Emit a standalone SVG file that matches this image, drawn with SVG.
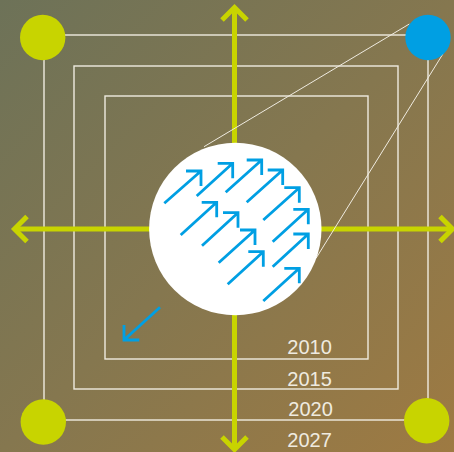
<svg xmlns="http://www.w3.org/2000/svg" width="454" height="452" viewBox="0 0 454 452">
<defs>
<linearGradient id="bg" x1="0" y1="0" x2="1" y2="1">
<stop offset="0" stop-color="#6d7258"/>
<stop offset="0.5" stop-color="#85774f"/>
<stop offset="1" stop-color="#9e7a42"/>
</linearGradient>
<style>
.sq{fill:none;stroke:#efebe0;stroke-width:1.4}
.ax{fill:none;stroke:#c8d400;stroke-width:5}
.dot{fill:#c8d400}
.ar{fill:none;stroke:#009fe3;stroke-width:2.8}
.tl{fill:none;stroke:#efebe0;stroke-width:1}
.yr{font-family:"Liberation Sans",Arial,sans-serif;font-size:20px;fill:#efebe0}
</style>
</defs>
<rect width="454" height="452" fill="url(#bg)"/>
<g id="squares">
<rect class="sq" x="44" y="35" width="384" height="385"/>
<rect class="sq" x="74" y="66" width="324" height="323"/>
<rect class="sq" x="105" y="96" width="263" height="263"/>
</g>
<g id="connectors">
<path class="ax" d="M234.5 7V447M14 229H451"/>
<path class="ax" d="M222 20L234.5 7.5L247 20M222 437L234.5 449.5L247 437M27 216.5L14.5 229L27 241.5M440 216.5L452.5 229L440 241.5"/>
<path class="tl" d="M409.3 24L204 146.7M443.3 53.3L316 258.3"/>
</g>
<g id="corner-tl"><circle class="dot" cx="42.7" cy="37.5" r="22.7"/></g>
<g id="corner-tr"><circle cx="428" cy="37.5" r="22.7" fill="#009fe3"/></g>
<g id="corner-bl"><circle class="dot" cx="43.3" cy="422" r="22.7"/></g>
<g id="corner-br"><circle class="dot" cx="426.7" cy="420.7" r="22.7"/></g>
<g id="center">
<circle cx="235.3" cy="229" r="86.2" fill="#ffffff"/>
<g class="ar">
<path d="M164.3 203.3L201 171M186 171H201V186"/>
<path d="M196.7 196L232.7 163.3M217.7 163.3H232.7V178.3"/>
<path d="M225.7 192.3L261.7 160M246.7 160H261.7V175"/>
<path d="M246.7 202.3L282.7 170M267.7 170H282.7V185"/>
<path d="M180.7 235L216.7 202.3M201.7 202.3H216.7V217.3"/>
<path d="M263.3 220L299.3 187.7M284.3 187.7H299.3V202.7"/>
<path d="M202 245.7L238 212.7M223 212.7H238V227.7"/>
<path d="M272.7 241.7L308.3 209.3M293.3 209.3H308.3V224.3"/>
<path d="M218.7 262.7L255 230M240 230H255V245"/>
<path d="M272.7 266.7L308.3 234M293.3 234H308.3V249"/>
<path d="M227.7 284.3L263.3 251.7M248.3 251.7H263.3V266.7"/>
<path d="M263.3 301L299.3 268.3M284.3 268.3H299.3V283.3"/>
</g>
</g>
<g id="out-arrow"><path class="ar" d="M160 307.3L124 340M124 325V340H139.3"/></g>
<g id="labels">
<text class="yr" x="287.3" y="354.3">2010</text>
<text class="yr" x="287.3" y="385.7">2015</text>
<text class="yr" x="288.3" y="416">2020</text>
<text class="yr" x="287.3" y="446.7">2027</text>
</g>
</svg>
